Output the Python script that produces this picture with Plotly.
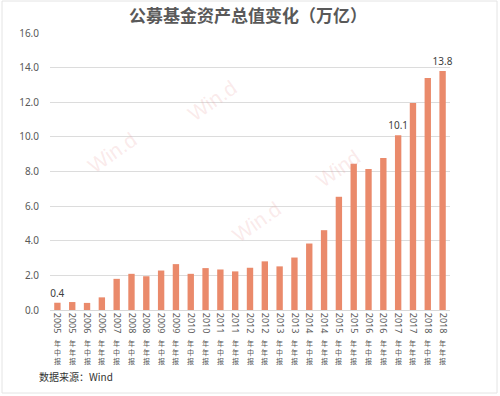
import plotly.graph_objects as go

# ---- data ----
years = ["2005", "2005", "2006", "2006", "2007", "2008", "2008", "2009", "2009",
         "2010", "2010", "2011", "2011", "2012", "2012", "2013", "2013", "2014",
         "2014", "2015", "2015", "2016", "2016", "2017", "2017", "2018", "2018"]
periods = ["中", "年", "中", "年", "中", "中", "年", "中", "年",
           "中", "年", "中", "年", "中", "年", "中", "年", "中",
           "年", "中", "年", "中", "年", "中", "年", "中", "年"]
categories = [f"{y}年{p}报" for y, p in zip(years, periods)]
values = [0.42, 0.46, 0.41, 0.73, 1.80, 2.09, 1.95, 2.28, 2.65,
          2.09, 2.42, 2.34, 2.23, 2.44, 2.81, 2.52, 3.03, 3.84,
          4.61, 6.54, 8.45, 8.14, 8.78, 10.1, 11.95, 13.4, 13.8]
labeled = [0, 23, 26]
y_ticks = [0, 2, 4, 6, 8, 10, 12, 14, 16]

title = "公募基金资产总值变化（万亿）"
source = "数据来源：Wind"

GRAY = "#595959"
FONT = "Noto Sans, Noto Sans CJK SC, sans-serif"
CJK = "Noto Sans CJK SC, sans-serif"

texts = [f"{v:.1f}" if i in labeled else "" for i, v in enumerate(values)]

fig = go.Figure()
fig.add_trace(go.Bar(
    x=categories, y=values,
    marker=dict(color="#EA8A6B", line=dict(width=0)),
    text=texts, textposition="outside", constraintext="none",
    textfont=dict(size=10, color="#404040", family=FONT),
    cliponaxis=False,
    hoverinfo="skip",
))

annotations = []
# suffix characters stacked upright under the rotated year
for cat, p in zip(categories, periods):
    annotations.append(dict(
        x=cat, xref="x", y=0, yref="paper", yanchor="top", xanchor="center",
        yshift=-27, text="年<br>" + p + "<br>报", showarrow=False, borderpad=0,
        font=dict(size=7, color=GRAY, family=CJK),
    ))

# watermarks
for (px, py, t) in [(212, 100, "Win.d"), (112, 152, "Win.d"),
                    (257, 222, "Win.d"), (338, 168, "Wind")]:
    annotations.append(dict(
        x=(px - 50) / 400, xref="paper", y=(310 - py) / 277, yref="paper",
        xanchor="center", yanchor="middle",
        text=t, showarrow=False, textangle=-35,
        font=dict(size=21, color="rgba(232,150,150,0.2)", family="Liberation Sans, sans-serif"),
    ))

annotations.append(dict(
    x=(37 - 50) / 400, xref="paper", xanchor="left",
    y=(310 - 377) / 277, yref="paper", yanchor="middle",
    text=source, showarrow=False,
    font=dict(size=10, color="#333333", family=CJK),
))

fig.update_layout(
    width=500, height=396,
    margin=dict(l=50, r=50, t=33, b=86),
    paper_bgcolor="white", plot_bgcolor="white",
    showlegend=False,
    bargap=0.57,
    title=dict(text=title, x=0.496, xanchor="center", y=1 - 16 / 396, yanchor="middle",
               yref="container",
               font=dict(size=17, color=GRAY, family=CJK, weight="bold")),
    xaxis=dict(
        type="category",
        tickmode="array", tickvals=categories, ticktext=years,
        tickangle=90, tickfont=dict(size=9, color=GRAY, family=FONT),
        showgrid=False, showline=True, linecolor="#d9d9d9", linewidth=1,
        ticks="", fixedrange=True, automargin=False,
    ),
    yaxis=dict(
        range=[0, 16], tickmode="array", tickvals=y_ticks,
        tickformat=".1f", tickfont=dict(size=10, color=GRAY, family=FONT),
        showgrid=True, gridcolor="#dcdcdc", gridwidth=1,
        zeroline=False, showline=False, ticks="", ticklabelstandoff=10,
        fixedrange=True, automargin=False,
    ),
    annotations=annotations,
    shapes=[dict(type="rect", xref="paper", yref="paper",
                 x0=(2 - 50) / 400, x1=(497 - 50) / 400,
                 y0=(310 - 393) / 277, y1=(310 - 1) / 277,
                 line=dict(color="#e4e4e4", width=1), layer="below")],
)

fig.write_html("out.html", config={"displayModeBar": False},
               post_script="document.body.style.margin='0';document.body.style.overflow='hidden';")
